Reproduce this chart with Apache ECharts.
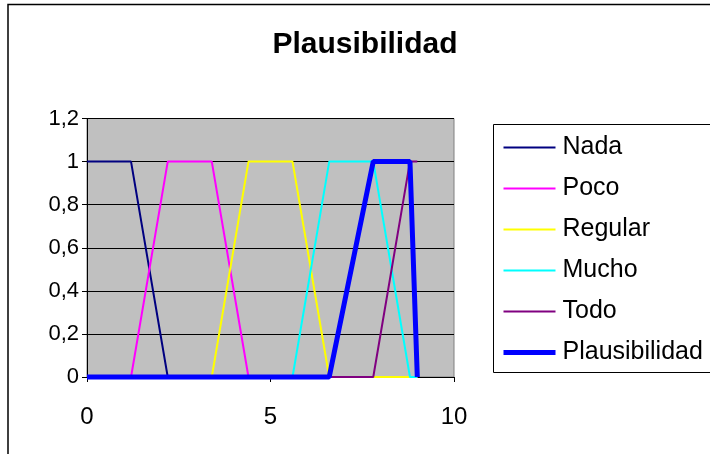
<!DOCTYPE html>
<html>
<head>
<meta charset="utf-8">
<script src="https://cdn.jsdelivr.net/npm/echarts@6/dist/echarts.min.js"></script>
<style>html,body{margin:0;padding:0;background:#fff}#c{width:710px;height:454px}</style>
</head>
<body>
<div id="c"></div>
<script>
var seriesNames = ['Nada', 'Poco', 'Regular', 'Mucho', 'Todo', 'Plausibilidad'];
var nada = [[0, 1], [1.2, 1], [2.2, 0], [9, 0]];
var poco = [[0, 0], [1.2, 0], [2.2, 1], [3.4, 1], [4.4, 0], [9, 0]];
var regular = [[0, 0], [3.4, 0], [4.4, 1], [5.6, 1], [6.6, 0], [9, 0]];
var mucho = [[0, 0], [5.6, 0], [6.6, 1], [7.8, 1], [8.8, 0], [9, 0]];
var todo = [[0, 0], [7.8, 0], [8.8, 1], [9, 1]];
var plausibilidad = [[0, 0], [6.6, 0], [7.8, 1], [8.8, 1], [9, 0]];
var xTicks = [0, 5, 10];
var yTicks = [0, 0.2, 0.4, 0.6, 0.8, 1, 1.2];

var colors = ['#000080', '#FF00FF', '#FFFF00', '#00FFFF', '#800080', '#0000FF'];
var widths = [2, 2, 2, 2, 2, 5];
var dataSets = [nada, poco, regular, mucho, todo, plausibilidad];
var font = 'Liberation Sans, Arial, sans-serif';

var chart = echarts.init(document.getElementById('c'), null, {renderer: 'canvas'});
chart.setOption({
  animation: false,
  backgroundColor: '#fff',
  title: {
    text: 'Plausibilidad', left: 360, top: 25, textAlign: 'center',
    textStyle: {fontFamily: font, fontSize: 30, fontWeight: 'bold', color: '#000'}
  },
  graphic: [
    {type: 'rect', z: -10, shape: {x: 8, y: 4.5, width: 800, height: 600}, style: {fill: 'none', stroke: '#000', lineWidth: 1.5}},
    {type: 'rect', z: -10, shape: {x: 493.5, y: 124.5, width: 300, height: 248}, style: {fill: '#fff', stroke: '#000', lineWidth: 1}}
  ],
  legend: {
    orient: 'vertical', left: 501, top: 135, padding: 0,
    itemWidth: 52, itemHeight: 14, itemGap: 16,
    data: seriesNames.map(function (n, i) {
      return {name: n, lineStyle: {width: widths[i], color: colors[i]}};
    }),
    itemStyle: {opacity: 0},
    textStyle: {fontFamily: font, fontSize: 25, lineHeight: 24, color: '#000', padding: [0, 0, 0, 2]}
  },
  grid: {left: 87, top: 118.5, right: 256, bottom: 77, show: true, backgroundColor: '#C0C0C0', borderColor: '#808080', borderWidth: 1},
  xAxis: {
    type: 'value', min: xTicks[0], max: xTicks[xTicks.length - 1], interval: 5,
    axisLine: {show: true, onZero: false, lineStyle: {color: '#000', width: 1}},
    axisTick: {show: true, length: 5, lineStyle: {color: '#000'}},
    axisLabel: {fontFamily: font, fontSize: 24, color: '#000', margin: 28},
    splitLine: {show: false}
  },
  yAxis: {
    type: 'value', min: 0, max: 1.2, interval: 0.2,
    axisLine: {show: true, lineStyle: {color: '#000', width: 1}},
    axisTick: {show: true, length: 5, lineStyle: {color: '#000'}},
    axisLabel: {fontFamily: font, fontSize: 22, color: '#000', margin: 8,
      formatter: function (v) { return String(Math.round(v * 10) / 10).replace('.', ','); }},
    splitLine: {show: true, lineStyle: {color: '#000', width: 1}}
  },
  series: seriesNames.map(function (n, i) {
    return {
      name: n, type: 'line', data: dataSets[i], symbol: 'none', clip: false,
      lineStyle: {color: colors[i], width: widths[i]}, itemStyle: {color: colors[i]}
    };
  })
});
</script>
</body>
</html>
